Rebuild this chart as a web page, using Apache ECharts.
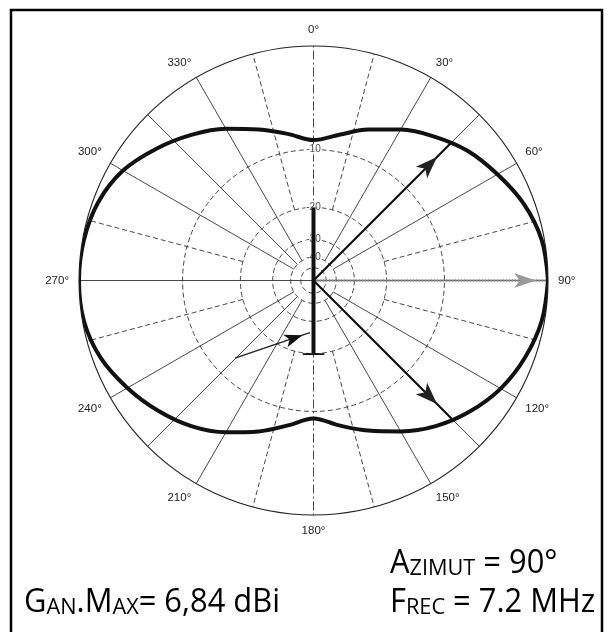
<!DOCTYPE html>
<html><head><meta charset="utf-8">
<script src="https://cdn.jsdelivr.net/npm/echarts@6/dist/echarts.min.js"></script>
<style>html,body{margin:0;padding:0;background:#fff}#c{width:611px;height:632px}</style>
</head><body><div id="c"></div>
<script>
// ---- data ----
const azimuths = [0,10,20,30,40,50,60,70,80,90,100,110,120,130,140,150,160,170,
                  180,190,200,210,220,230,240,250,260,270,280,290,300,310,320,330,340,350];
const gainDb   = [-8.8,-7.9,-6.5,-5.1,-3.8,-2.6,-1.7,-0.8,-0.2,0,-0.2,-0.7,-1.4,-2.4,-3.6,-5.1,-6.6,-8.0,
                  -9.1,-8.0,-6.5,-5.0,-3.6,-2.5,-1.5,-0.6,-0.1,0,-0.1,-0.4,-1.1,-2.3,-3.6,-5.0,-6.5,-7.8];
const ringDb = [-10,-20,-30,-40,-50];
const ringLabelDb = [-10,-20,-30,-40];
const angleTickStep = 30;
const spokeAngles = [0,15,30,45,60,75,90,105,120,135,150,165,180,195,210,225,240,255,270,285,300,315,330,345];
const halfPowerAngles = [45,135];
const halfPowerDb = -3.1;
const wireDb = -20;              // vertical element drawn across the -20 dB ring
const feedArrow = {from:[0.471,225.3], head:[0.238,191.5], to:[0.223,183.8]};

// ARRL log-periodic scale (0.89 per 2 dB)
const rOf = db => Math.pow(0.89, -db / 2);

const series = [];
// rings
ringDb.forEach(db => {
  const d = [];
  for (let a = 0; a <= 360; a += 2) d.push([rOf(db), a]);
  series.push({type:'line', coordinateSystem:'polar', data:d, symbol:'none', silent:true, z:1,
    lineStyle:{color:'#333', width:0.9, type:[5,3]}});
});
// spokes
spokeAngles.forEach(a => {
  let r0, type;
  if (a % 180 === 0) { r0 = 0; type = [9,3,2,3]; }
  else if (a % 90 === 0) { r0 = 0; type = 'solid'; }
  else if (a % 90 === 15 || a % 90 === 75) { r0 = rOf(-20); type = [5,3]; }
  else { r0 = rOf(-40); type = 'solid'; }
  series.push({type:'line', coordinateSystem:'polar', data:[[r0,a],[1,a]], symbol:'none', silent:true, z:1,
    lineStyle:{color:'#333', width:0.9, type:type}});
});
// ring labels
series.push({type:'scatter', coordinateSystem:'polar', symbolSize:0, silent:true, z:2,
  data: ringLabelDb.map(db => ({value:[rOf(db),0], name:String(db)})),
  label:{show:true, position:'inside', formatter:p=>p.name, fontSize:10, color:'#222',
    fontFamily:'Liberation Sans', backgroundColor:'#fff', padding:[0,1]}});
// pattern: start the closed loop at 90° so the join falls where the curve is smooth
const start = azimuths.indexOf(90);
const pat = [];
for (let k = 0; k <= azimuths.length; k++) {
  const i = (start + k) % azimuths.length;
  pat.push([rOf(gainDb[i]), azimuths[i]]);
}
series.push({type:'line', coordinateSystem:'polar', data:pat, symbol:'none', smooth:0.35, silent:true, z:4,
  lineStyle:{color:'#111', width:4}});
// grey arrow along 90
series.push({type:'line', coordinateSystem:'polar', silent:true, z:3, symbol:'none',
  data:[[0,90], {value:[0.95,90], symbol:'arrow', symbolSize:[11,22], symbolRotate:-90}, [1,90]],
  lineStyle:{color:'#8a8a8a', width:2.5, type:[2,1]}, itemStyle:{color:'#999'}});
// half-power arrows
halfPowerAngles.forEach(a => {
  series.push({type:'line', coordinateSystem:'polar', silent:true, z:5, symbol:'none',
    data:[[0,a], {value:[0.745,a], symbol:'arrow', symbolSize:[12,22], symbolRotate:-a}, [rOf(halfPowerDb),a]],
    lineStyle:{color:'#111', width:2.2}, itemStyle:{color:'#222'}});
});
// feed arrow
series.push({type:'line', coordinateSystem:'polar', silent:true, z:5, symbol:'none',
  data:[feedArrow.from, {value:feedArrow.head, symbol:'arrow', symbolSize:[10,18], symbolRotate:-71}, feedArrow.to],
  lineStyle:{color:'#222', width:1.4}, itemStyle:{color:'#111'}});
// vertical element
series.push({type:'line', coordinateSystem:'polar', silent:true, z:6, symbol:'none',
  data:[[rOf(wireDb),0],[rOf(wireDb),180]], lineStyle:{color:'#111', width:4}});
series.push({type:'line', coordinateSystem:'polar', silent:true, z:6, symbol:'none',
  data:[[0.317,171.7],[0.317,188.3]], lineStyle:{color:'#111', width:1.8}});

const chart = echarts.init(document.getElementById('c'), null, {renderer:'canvas'});
const big = {fontSize:32, lineHeight:32, fontFamily:'Open Sans', color:'#1a1a1a', verticalAlign:'bottom'};
const sm  = {fontSize:22.5, lineHeight:22.5, fontFamily:'Open Sans', color:'#1a1a1a', verticalAlign:'bottom'};
chart.setOption({
  backgroundColor:'#fff',
  animation:false,
  polar:{center:[313.5,280.5], radius:234.5},
  angleAxis:{type:'value', min:0, max:360, interval:angleTickStep, startAngle:90, clockwise:true,
    axisLine:{lineStyle:{color:'#222', width:1.1}}, axisTick:{show:false}, splitLine:{show:false},
    axisLabel:{formatter:v=> v===360 ? '' : v+'°', margin:10, fontSize:11.5, color:'#222', fontFamily:'Liberation Sans'}},
  radiusAxis:{type:'value', min:0, max:1, show:false},
  series:series,
  graphic:[
    {type:'rect', shape:{x:11,y:10,width:591,height:650}, style:{fill:'none', stroke:'#000', lineWidth:2.5}, silent:true},
    {type:'text', x:24, y:619, scaleX:0.965, style:{text:'{b|G}{s|AN}{b|.M}{s|AX}{b|= 6,84 dBi}', rich:{b:big,s:sm}, verticalAlign:'bottom'}},
    {type:'text', x:390, y:580, scaleX:0.965, style:{text:'{b|A}{s|ZIMUT}{b| = 90°}', rich:{b:big,s:sm}, verticalAlign:'bottom'}},
    {type:'text', x:390, y:619, scaleX:0.965, style:{text:'{b|F}{s|REC}{b| = 7.2 MHz}', rich:{b:big,s:sm}, verticalAlign:'bottom'}}
  ]
});
</script></body></html>
